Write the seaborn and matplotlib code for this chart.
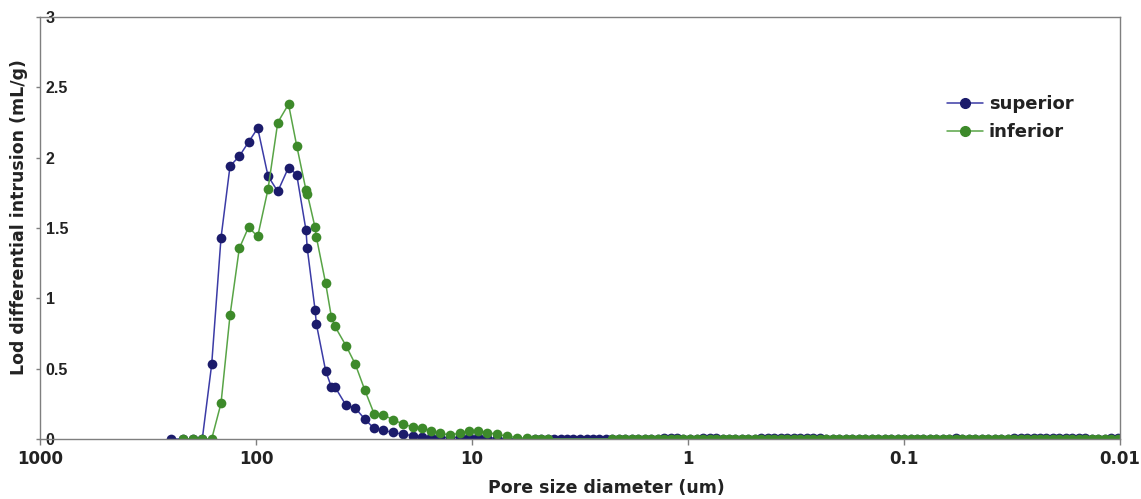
import numpy as np
import pandas as pd
import matplotlib
matplotlib.use("Agg")
import matplotlib.pyplot as plt
import seaborn as sns
from matplotlib.lines import Line2D
from matplotlib.ticker import FixedLocator, FixedFormatter, NullLocator

# ---------------- data ----------------
diameter_um = [
    248, 218.5, 196.4, 177.3, 160.4, 145.2, 131.9, 119.5, 108.3, 98.2,
    88.0, 79.3, 70.7, 64.8, 58.7, 57.9, 53.3, 52.5, 47.6, 44.8,
    43.1, 38.3, 34.7, 31.3, 28.4, 25.8, 23.3, 20.9, 18.8, 17.0,
    15.5, 14.1, 12.7, 11.4, 10.3, 9.35, 8.5, 7.69, 6.91, 6.21,
    5.58,
    5.13, 4.79, 4.47, 4.17, 3.89, 3.63, 3.39, 3.16, 2.95, 2.75,
    2.57, 2.40, 2.24, 2.09, 1.95, 1.82, 1.70, 1.58, 1.48, 1.38,
    1.29, 1.20, 1.12, 1.05, 0.977, 0.912, 0.851, 0.794, 0.741, 0.692,
    0.646, 0.603, 0.562, 0.525, 0.490, 0.457, 0.427, 0.398, 0.372, 0.347,
    0.324, 0.302, 0.282, 0.263, 0.245, 0.229, 0.214, 0.200, 0.186, 0.174,
    0.162, 0.151, 0.141, 0.132, 0.123, 0.115, 0.107, 0.100, 0.0933, 0.0871,
    0.0813, 0.0759, 0.0708, 0.0661, 0.0617, 0.0575, 0.0537, 0.0501, 0.0468, 0.0437,
    0.0407, 0.0380, 0.0355, 0.0331, 0.0309, 0.0288, 0.0269, 0.0251, 0.0234, 0.0219,
    0.0204, 0.0191, 0.0178, 0.0166, 0.0155, 0.0145, 0.0135, 0.0126, 0.0117, 0.0110,
    0.0102,
]

superior = [
    0, 0, 0, 0, 0.53, 1.43, 1.94, 2.01, 2.11, 2.21,
    1.87, 1.76, 1.93, 1.88, 1.485, 1.355, 0.92, 0.815, 0.485, 0.37,
    0.37, 0.24, 0.22, 0.14, 0.075, 0.062, 0.047, 0.034, 0.024, 0.017,
    0.013, 0.011, 0.010, 0.012, 0.014, 0.012, 0.008, 0.005, 0.003, 0,
    0,
    0, 0, 0, 0, 0, 0, 0, 0, 0, 0,
    0, 0, 0, 0, 0, 0, 0, 0, 0, 0,
    0.01, 0.01, 0.01, 0, 0, 0, 0.01, 0.01, 0.01, 0,
    0, 0, 0, 0, 0, 0.01, 0.01, 0.01, 0.01, 0.01,
    0.01, 0.01, 0.01, 0.01, 0.01, 0, 0, 0, 0, 0,
    0, 0, 0, 0, 0, 0, 0, 0, 0, 0,
    0, 0, 0, 0, 0, 0.01, 0, 0, 0, 0,
    0, 0, 0, 0, 0.01, 0.01, 0.01, 0.01, 0.01, 0.01,
    0.01, 0.01, 0.01, 0.01, 0.01, 0.01, 0, 0, 0, 0.01,
    0.01,
]

inferior = [
    np.nan, 0, 0, 0, 0, 0.254, 0.88, 1.355, 1.505, 1.44,
    1.775, 2.25, 2.38, 2.085, 1.77, 1.745, 1.505, 1.433, 1.107, 0.87,
    0.80, 0.663, 0.532, 0.345, 0.18, 0.172, 0.138, 0.107, 0.085, 0.081,
    0.058, 0.040, 0.030, 0.040, 0.058, 0.060, 0.045, 0.035, 0.020, 0.010,
    0.004,
    0, 0, 0, np.nan, np.nan, np.nan, np.nan, np.nan, np.nan, np.nan,
    np.nan, np.nan, 0, 0, 0, 0, 0, 0, 0, 0,
    0, 0, 0, 0, 0, 0, 0, 0, 0, 0,
    0, 0, 0, 0, 0, 0, 0, 0, 0, 0,
    0, 0, 0, 0, 0, 0, 0, 0, 0, 0,
    0, 0, 0, 0, 0, 0, 0, 0, 0, 0,
    0, 0, 0, 0, 0, 0, 0, 0, 0, 0,
    0, 0, 0, 0, 0, 0, 0, 0, 0, 0,
    0, 0, 0, 0, 0, 0, 0, 0, 0, 0,
    0,
]

series_names = ["superior", "inferior"]
x_ticks = [1000, 100, 10, 1, 0.1, 0.01]
x_tick_labels = ["1000", "100", "10", "1", "0.1", "0.01"]
y_ticks = [0, 0.5, 1, 1.5, 2, 2.5, 3]
y_tick_labels = ["0", "0.5", "1", "1.5", "2", "2.5", "3"]

# ---------------- styling ----------------
marker_colors = {"superior": "#1b1b6b", "inferior": "#3d8a2a"}
line_colors = {"superior": "#3b3ba6", "inferior": "#58a446"}

sns.set_theme(style="white")
plt.rcParams["font.family"] = ["DejaVu Sans"]
plt.rcParams["font.weight"] = "bold"
text_color = "#222222"

df = pd.DataFrame({
    "diameter": diameter_um * 2,
    "value": superior + inferior,
    "sample": [series_names[0]] * len(diameter_um) + [series_names[1]] * len(diameter_um),
}).dropna()

fig = plt.figure(figsize=(11.41, 4.99), dpi=100)
ax = fig.add_axes([40 / 1141, 1 - 439 / 499, 1080 / 1141, 422 / 499])

sns.lineplot(
    data=df, x="diameter", y="value", hue="sample", hue_order=series_names,
    palette=line_colors, estimator=None, sort=False, marker="o",
    markersize=7, markeredgewidth=0, linewidth=1.1, legend=False, ax=ax,
)
for line, name in zip(ax.lines, series_names):
    line.set_markerfacecolor(marker_colors[name])
    line.set_markeredgecolor(marker_colors[name])

ax.set_xscale("log")
ax.set_xlim(1000, 0.01)
ax.set_ylim(0, 3)
ax.xaxis.set_major_locator(FixedLocator(x_ticks))
ax.xaxis.set_major_formatter(FixedFormatter(x_tick_labels))
ax.xaxis.set_minor_locator(NullLocator())
ax.yaxis.set_major_locator(FixedLocator(y_ticks))
ax.yaxis.set_major_formatter(FixedFormatter(y_tick_labels))

for sp in ax.spines.values():
    sp.set_visible(True)
    sp.set_color("#7f7f7f")
    sp.set_linewidth(1.0)

ax.tick_params(axis="x", direction="out", length=4, width=1, color="#7f7f7f",
               labelsize=12, pad=4, bottom=True, labelcolor=text_color)
ax.tick_params(axis="y", direction="out", length=3, width=1, color="#7f7f7f",
               labelsize=11.5, pad=-7, left=True, labelcolor=text_color)
for lab in ax.get_yticklabels():
    lab.set_horizontalalignment("left")
    lab.set_fontfamily(["Liberation Sans", "DejaVu Sans"])
for lab in ax.get_xticklabels() + ax.get_yticklabels():
    lab.set_fontweight("bold")

ax.set_xlabel("Pore size diameter (um)", fontsize=12.5, fontweight="bold", color=text_color)
ax.set_ylabel("Lod differential intrusion (mL/g)", fontsize=12.5, fontweight="bold", color=text_color)
ax.xaxis.set_label_coords((606 - 40) / 1080, (439 - 479) / 422)
ax.yaxis.set_label_coords((28 - 40) / 1080, 0.525)
ax.grid(False)

handles = [
    Line2D([0], [0], color=line_colors[n], lw=1.1, marker="o", markersize=7,
           markerfacecolor=marker_colors[n], markeredgecolor=marker_colors[n])
    for n in series_names
]
leg = ax.legend(handles, series_names, loc="upper left",
                bbox_to_anchor=(931 / 1141, 1 - 79 / 499), bbox_transform=fig.transFigure,
                frameon=False, handlelength=2.0, handletextpad=0.3,
                labelspacing=0.55, prop={"weight": "bold", "size": 13})
for t in leg.get_texts():
    t.set_color(text_color)

fig.savefig("out.png", dpi=100)
